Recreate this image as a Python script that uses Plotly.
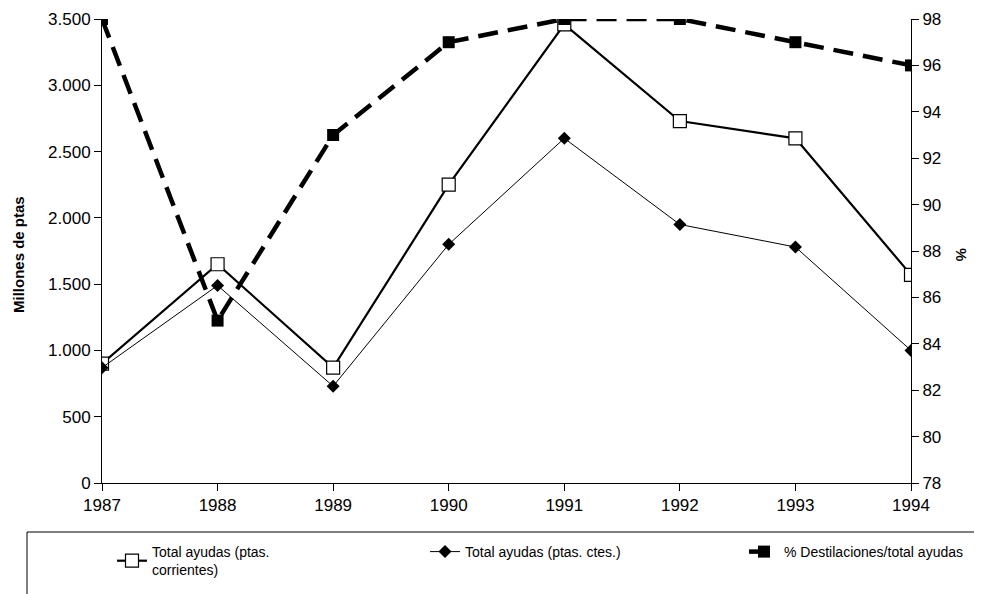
""" Ayudas totales y porcentaje destinado a destilaciones, 1987-1994 """
import plotly.graph_objects as go

years = ['1987', '1988', '1989', '1990', '1991', '1992', '1993', '1994']
ayudas_corrientes = [900, 1650, 870, 2250, 3460, 2730, 2600, 1570]
ayudas_constantes = [870, 1490, 730, 1800, 2600, 1950, 1780, 1000]
pct_destilaciones = [98, 85, 93, 97, 98, 98, 97, 96]

left_ticks = [0, 500, 1000, 1500, 2000, 2500, 3000, 3500]
left_text = ['0', '500', '1.000', '1.500', '2.000', '2.500', '3.000', '3.500']
right_ticks = [78, 80, 82, 84, 86, 88, 90, 92, 94, 96, 98]

FONT = 'Liberation Sans, Arial, sans-serif'
W, H = 982, 594
OFF = 8  # page body margin around the figure
# plot area in page pixels: x 102..911, y 19..483
ML, MT = 102 - OFF, 19 - OFF
MR, MB = W - (911 - OFF), H - (483 - OFF)

fig = go.Figure()

fig.add_trace(go.Scatter(
    x=years, y=ayudas_corrientes, mode='lines+markers',
    name='Total ayudas (ptas.<br>corrientes)', legend='legend',
    line={'color': 'black', 'width': 2.2},
    marker={'symbol': 'square', 'size': 13, 'color': 'white',
            'line': {'color': 'black', 'width': 1.2}}))

fig.add_trace(go.Scatter(
    x=years, y=ayudas_constantes, mode='lines+markers',
    name='Total ayudas (ptas. ctes.)', legend='legend2',
    line={'color': 'black', 'width': 1},
    marker={'symbol': 'diamond', 'size': 10, 'color': 'black'}))

fig.add_trace(go.Scatter(
    x=years, y=pct_destilaciones, mode='lines+markers', yaxis='y2',
    name='% Destilaciones/total ayudas', legend='legend3',
    line={'color': 'black', 'width': 4.5, 'dash': '20px,10px'},
    marker={'symbol': 'square', 'size': 12, 'color': 'black'}))


def px_x(p):
    """ page pixel -> paper x """
    return (p - OFF - ML) / (W - ML - MR)


def px_y(p):
    """ page pixel -> paper y """
    return (H - MB - (p - OFF)) / (H - MT - MB)


def legend_at(text_px):
    """ legend whose text starts at page pixel text_px """
    return {'xref': 'container', 'yref': 'container',
            'x': (text_px - OFF - 40) / W, 'y': 1 - (536 - OFF) / H,
            'xanchor': 'left', 'yanchor': 'top',
            'bgcolor': 'rgba(0,0,0,0)', 'borderwidth': 0,
            'font': {'size': 14}}


axis_common = {'showgrid': False, 'showline': True, 'linecolor': 'black',
               'ticks': 'outside', 'ticklen': 7, 'tickcolor': 'black',
               'tickfont': {'size': 17}, 'automargin': False}

fig.update_layout(
    width=W, height=H,
    margin={'l': ML, 'r': MR, 't': MT, 'b': MB, 'autoexpand': False},
    paper_bgcolor='white', plot_bgcolor='white',
    font={'family': FONT, 'size': 14, 'color': 'black'},
    xaxis={**axis_common, 'type': 'category', 'range': [0, 7]},
    yaxis={**axis_common, 'range': [0, 3500], 'tickvals': left_ticks,
           'ticktext': left_text, 'zeroline': False},
    yaxis2={**axis_common, 'range': [78, 98], 'tickvals': right_ticks,
            'overlaying': 'y', 'side': 'right', 'zeroline': False},
    legend=legend_at(152),
    legend2=legend_at(465),
    legend3=legend_at(784),
    showlegend=True,
)

fig.add_annotation(text='<b>Millones de ptas</b>', xref='paper', yref='paper',
                   x=px_x(19), y=px_y(255), textangle=-90, showarrow=False,
                   xanchor='center', yanchor='middle', font={'size': 15})
fig.add_annotation(text='<b>%</b>', xref='paper', yref='paper',
                   x=px_x(962), y=px_y(254), textangle=90, showarrow=False,
                   xanchor='center', yanchor='middle', font={'size': 15})

# Legend frame
fig.add_shape(type='rect', xref='paper', yref='paper',
              x0=px_x(27), x1=px_x(1000), y0=px_y(610), y1=px_y(532),
              line={'color': 'black', 'width': 1})

fig.write_html('out.html')
